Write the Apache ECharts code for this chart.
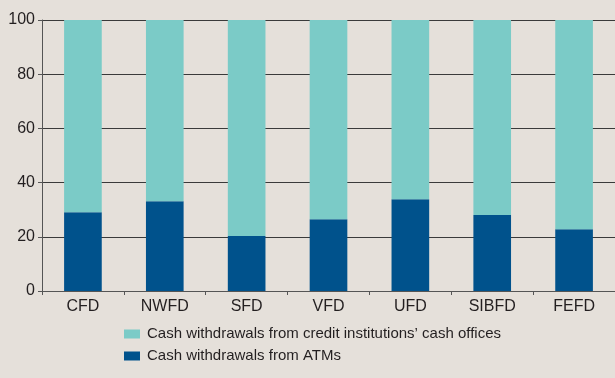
<!DOCTYPE html>
<html>
<head>
<meta charset="utf-8">
<script src="https://cdn.jsdelivr.net/npm/echarts@6/dist/echarts.min.js"></script>
<style>
html,body{margin:0;padding:0;background:#e5e0da;}
#chart{width:615px;height:378px;}
</style>
</head>
<body>
<div id="chart"></div>
<script>
// Federal districts
const categories = ['CFD', 'NWFD', 'SFD', 'VFD', 'UFD', 'SIBFD', 'FEFD'];
// Share of cash withdrawals via ATMs, %
const atmShare = [29.1, 33.1, 20.3, 26.5, 33.9, 28.0, 22.8];
// Share of cash withdrawals via credit institutions' cash offices, %
const officeShare = [70.9, 66.9, 79.7, 73.5, 66.1, 72.0, 77.2];
const yTicks = [0, 20, 40, 60, 80, 100];

const seriesNames = [
  'Cash withdrawals from credit institutions\u2019 cash offices',
  'Cash withdrawals from ATMs'
];

const FONT = '"Liberation Sans", Arial, sans-serif';
const TEXT = '#231f20';

const chart = echarts.init(document.getElementById('chart'), null, {renderer: 'canvas'});
chart.setOption({
  backgroundColor: '#e5e0da',
  animation: false,
  textStyle: {fontFamily: FONT},
  grid: {left: 42, right: 0, top: 20, bottom: 87},
  legend: {
    orient: 'vertical',
    left: 119,
    top: 321,
    itemWidth: 16,
    itemHeight: 9,
    itemGap: 6,
    icon: 'rect',
    data: seriesNames,
    textStyle: {fontFamily: FONT, fontSize: 15, color: TEXT, lineHeight: 16, padding: [0, 0, 0, 2]}
  },
  xAxis: {
    type: 'category',
    data: categories,
    axisLine: {lineStyle: {color: '#555', width: 1}},
    axisTick: {show: true, length: 4, lineStyle: {color: '#555'}},
    axisLabel: {fontFamily: FONT, fontSize: 16, color: TEXT, margin: 8}
  },
  yAxis: {
    type: 'value',
    min: yTicks[0],
    max: yTicks[yTicks.length - 1],
    interval: 20,
    axisLine: {show: true, lineStyle: {color: '#555', width: 1}},
    axisTick: {show: true, inside: false, length: 4, lineStyle: {color: '#555'}},
    axisLabel: {fontFamily: FONT, fontSize: 16, color: TEXT, margin: 7},
    splitLine: {show: true, lineStyle: {color: '#3a3a3a', width: 1}}
  },
  series: [
    {
      name: seriesNames[1],
      type: 'bar',
      stack: 'total',
      data: atmShare,
      barWidth: '46%',
      itemStyle: {color: '#00528c'}
    },
    {
      name: seriesNames[0],
      type: 'bar',
      stack: 'total',
      data: officeShare,
      barWidth: '46%',
      itemStyle: {color: '#7bcbc7'}
    }
  ]
});
</script>
</body>
</html>
